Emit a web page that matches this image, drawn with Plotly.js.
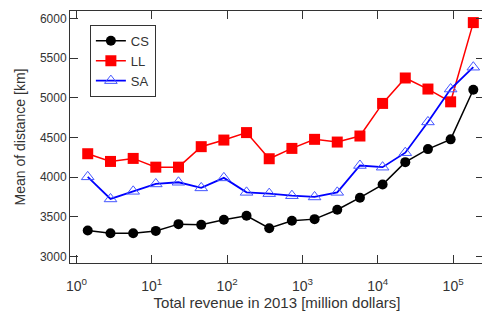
<!DOCTYPE html>
<html>
<head>
<meta charset="utf-8">
<script src="https://cdn.plot.ly/plotly-3.0.1.min.js"></script>
<style>
html,body{margin:0;padding:0;overflow:hidden;background:#fff;}
#chart{width:490px;height:313px;}
</style>
</head>
<body>
<div id="chart"></div>
<script>
// Bin centres (million dollars), log-spaced bins
const revenue = [1.41, 2.83, 5.66, 11.3, 22.6, 45.3, 90.5, 181, 362, 724, 1448, 2896, 5793, 11585, 23170, 46341, 92682, 185364];
const seriesNames = ["CS", "LL", "SA"];
const csValues = [3329, 3296, 3296, 3325, 3410, 3401, 3465, 3515, 3359, 3452, 3473, 3591, 3743, 3908, 4190, 4354, 4477, 5101];
const llValues = [4296, 4199, 4237, 4127, 4127, 4385, 4468, 4562, 4233, 4363, 4477, 4443, 4519, 4929, 5249, 5110, 4949, 5946];
const saValues = [4005, 3727, 3823, 3916, 3937, 3866, 3992, 3810, 3794, 3768, 3752, 3810, 4148, 4127, 4309, 4696, 5110, 5385];
const xTickVals = [1, 10, 100, 1000, 10000, 100000];
const xTickText = ["10<sup>0</sup>", "10<sup>1</sup>", "10<sup>2</sup>", "10<sup>3</sup>", "10<sup>4</sup>", "10<sup>5</sup>"];
const yTickVals = [3000, 3500, 4000, 4500, 5000, 5500, 6000];

const font = "Liberation Sans, Arial, sans-serif";
const traces = [
  {x: revenue, y: csValues, name: seriesNames[0], type: "scatter", mode: "lines+markers",
   line: {color: "#000000", width: 1.5},
   marker: {symbol: "circle", size: 10, color: "#000000"}},
  {x: revenue, y: llValues, name: seriesNames[1], type: "scatter", mode: "lines+markers",
   line: {color: "#ff0000", width: 1.5},
   marker: {symbol: "square", size: 11, color: "#ff0000"}},
  {x: revenue, y: saValues, name: seriesNames[2], type: "scatter", mode: "lines+markers",
   line: {color: "#0000ff", width: 1.8},
   marker: {symbol: "triangle-up-open", size: 11, color: "#4455ff", line: {width: 1, color: "#4455ff"}}}
];

const layout = {
  width: 490, height: 313,
  margin: {l: 70, r: 6, t: 11, b: 50},
  paper_bgcolor: "#ffffff", plot_bgcolor: "#ffffff",
  font: {family: font, color: "#333333", size: 12},
  showlegend: true,
  legend: {
    x: 0.048, y: 0.945, xanchor: "left", yanchor: "top",
    bgcolor: "#ffffff", bordercolor: "#333333", borderwidth: 1,
    font: {family: font, size: 13, color: "#333333"},
    tracegroupgap: 0, itemwidth: 30
  },
  xaxis: {
    type: "log",
    range: [-0.086, 5.41],
    tickmode: "array", tickvals: xTickVals, ticktext: xTickText,
    ticks: "inside", ticklen: 8, tickcolor: "#333333",
    showline: true, linecolor: "#333333", linewidth: 1, mirror: "ticks",
    showgrid: false, zeroline: false, ticklabelstandoff: 10,
    tickfont: {family: font, size: 14, color: "#333333"},
    title: {text: "Total revenue in 2013 [million dollars]", font: {family: font, size: 15, color: "#333333"}, standoff: 2}
  },
  yaxis: {
    range: [2921, 6092],
    tickmode: "array", tickvals: yTickVals,
    ticks: "inside", ticklen: 8, tickcolor: "#333333",
    showline: true, linecolor: "#333333", linewidth: 1, mirror: "ticks",
    showgrid: false, zeroline: false,
    tickfont: {family: font, size: 12, color: "#333333"},
    title: {text: "Mean of distance [km]", font: {family: font, size: 14, color: "#333333"}, standoff: 10}
  }
};

Plotly.newPlot("chart", traces, layout, {staticPlot: true, displayModeBar: false});
</script>
</body>
</html>
